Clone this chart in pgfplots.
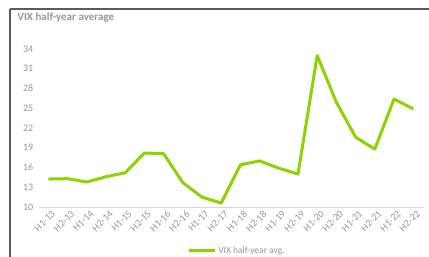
\documentclass[border=0pt]{standalone}
\usepackage{pgfplots}
\pgfplotsset{compat=1.18}
\usepackage{fontspec}
\setmainfont{Carlito}
\definecolor{vixgreen}{RGB}{140,212,0}
\definecolor{txtgray}{RGB}{150,150,150}
\definecolor{framegray}{RGB}{90,90,90}
\begin{document}
\begin{tikzpicture}[x=1pt,y=1pt]
\path[use as bounding box] (0,0) rectangle (429,257);
\draw[framegray,line width=1.2pt] (10,248) -- (429,248);
\draw[framegray,line width=1.2pt] (10,0) -- (10,248);
\node[anchor=west,text=txtgray,font=\fontsize{11}{12}\selectfont\bfseries] at (14,239) {VIX half-year average};
\begin{axis}[
  at={(38.8pt,50pt)}, anchor=south west,
  scale only axis, width=384pt, height=158pt,
  xmin=-0.5, xmax=19.5, ymin=10, ymax=34,
  axis line style={draw=none},
  axis x line*=bottom,
  ytick={10,13,16,19,22,25,28,31,34},
  xtick={0,...,19},
  xticklabels={H1-13,H2-13,H1-14,H2-14,H1-15,H2-15,H1-16,H2-16,H1-17,H2-17,H1-18,H2-18,H1-19,H2-19,H1-20,H2-20,H1-21,H2-21,H1-22,H2-22},
  x tick label style={rotate=45,anchor=north east,font=\fontsize{10}{11}\selectfont,text=txtgray,inner sep=1pt,xshift=1pt,yshift=-3pt},
  y tick label style={font=\fontsize{10}{12}\selectfont,text=txtgray},
  /pgf/number format/assume math mode=true,
  major tick length=0pt,
  yticklabel style={xshift=-2pt},
  extra y ticks={10}, extra y tick labels={},
  extra y tick style={grid=major, major grid style={draw=black!15,line width=0.8pt}},
  legend style={at={(0.516,-0.278)},anchor=center,draw=none,font=\fontsize{9.5}{10}\selectfont,text=txtgray,legend cell align=left},
  legend image code/.code={\draw[#1] (0pt,0pt) -- (26pt,0pt);},
  clip=false,
]
\addplot[color=vixgreen,line width=3pt,line join=round,mark=none] coordinates {
(0,14.25) (1,14.3) (2,13.8) (3,14.6) (4,15.2) (5,18.2) (6,18.1) (7,13.7) (8,11.5) (9,10.6)
(10,16.4) (11,17.0) (12,15.9) (13,15.0) (14,33.0) (15,25.9) (16,20.6) (17,18.8) (18,26.4) (19,24.9)
};
\addlegendentry{VIX half-year avg.}
\end{axis}
\end{tikzpicture}
\end{document}
